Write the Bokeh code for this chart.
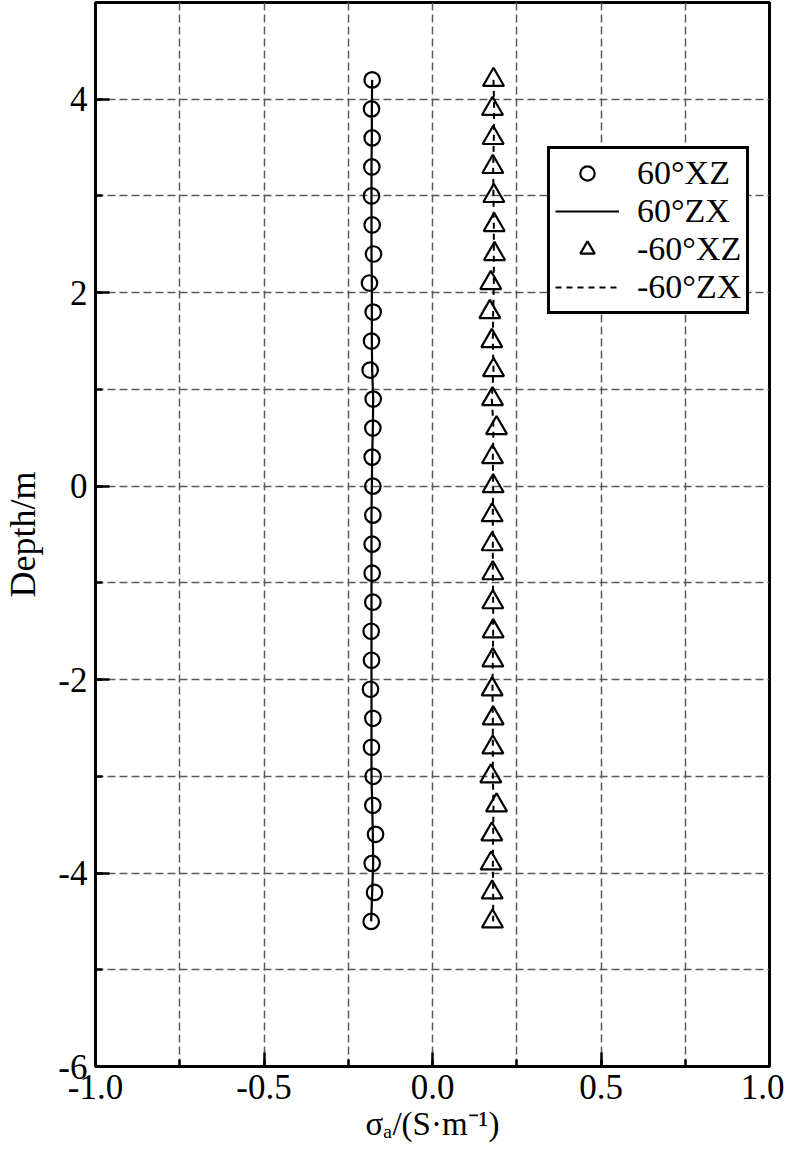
from bokeh.plotting import figure
from bokeh.models import (Range1d, SingleIntervalTicker, PrintfTickFormatter,
                          Legend, LegendItem)
from bokeh.embed import file_html
from bokeh.resources import INLINE

# ---- data ----
depth = [4.2, 3.9, 3.6, 3.3, 3.0, 2.7, 2.4, 2.1, 1.8, 1.5, 1.2, 0.9, 0.6, 0.3, 0.0,
         -0.3, -0.6, -0.9, -1.2, -1.5, -1.8, -2.1, -2.4, -2.7, -3.0, -3.3, -3.6,
         -3.9, -4.2, -4.5]
xz_p60 = [-0.179, -0.181, -0.179, -0.180, -0.181, -0.179, -0.175, -0.187, -0.176,
          -0.181, -0.185, -0.176, -0.177, -0.179, -0.177, -0.177, -0.179, -0.179,
          -0.177, -0.182, -0.181, -0.184, -0.177, -0.181, -0.176, -0.177, -0.169,
          -0.179, -0.172, -0.182]
zx_p60 = [-0.179, -0.180, -0.180, -0.181, -0.181, -0.181, -0.181, -0.180, -0.180,
          -0.180, -0.179, -0.176, -0.177, -0.179, -0.180, -0.181, -0.181, -0.181,
          -0.181, -0.181, -0.181, -0.181, -0.181, -0.181, -0.181, -0.179, -0.177,
          -0.176, -0.179, -0.182]
xz_m60 = [0.181, 0.178, 0.180, 0.179, 0.182, 0.183, 0.184, 0.173, 0.170, 0.176,
          0.181, 0.178, 0.190, 0.178, 0.180, 0.177, 0.177, 0.179, 0.179, 0.180,
          0.179, 0.177, 0.180, 0.179, 0.173, 0.190, 0.176, 0.174, 0.177, 0.178]
zx_m60 = [0.181, 0.183, 0.182, 0.180, 0.181, 0.182, 0.182, 0.182, 0.180, 0.179,
          0.181, 0.176, 0.181, 0.179, 0.180, 0.179, 0.179, 0.179, 0.180, 0.180,
          0.179, 0.178, 0.179, 0.179, 0.179, 0.181, 0.180, 0.179, 0.180, 0.180]
legend_labels = ["60°XZ", "60°ZX", "-60°XZ", "-60°ZX"]
x_title = "σₐ/(S·m⁻¹)"
y_title = "Depth/m"

FONT = "Liberation Serif"

p = figure(width=784, height=1146, output_backend="svg", toolbar_location=None,
           x_range=Range1d(-1, 1), y_range=Range1d(-6, 5),
           min_border_left=90, min_border_right=15, min_border_top=2,
           min_border_bottom=80)
p.background_fill_color = "white"
p.border_fill_color = "white"
p.outline_line_color = "black"
p.outline_line_width = 3
p.outline_line_alpha = 1

# axes
p.xaxis.ticker = SingleIntervalTicker(interval=0.5, num_minor_ticks=2)
p.yaxis.ticker = SingleIntervalTicker(interval=2, num_minor_ticks=2)
p.xaxis.formatter = PrintfTickFormatter(format="%.1f")
p.yaxis.formatter = PrintfTickFormatter(format="%d")
for ax in (p.xaxis, p.yaxis):
    ax.axis_line_width = 3
    ax.axis_line_color = "black"
    ax.major_tick_in = 14
    ax.major_tick_out = 0
    ax.minor_tick_in = 7
    ax.minor_tick_out = 0
    ax.major_tick_line_width = 2.5
    ax.minor_tick_line_width = 2.5
    ax.major_tick_line_color = "black"
    ax.minor_tick_line_color = "black"
    ax.major_label_text_font = FONT
    ax.major_label_text_font_size = "35px"
    ax.major_label_text_color = "black"
    ax.major_label_standoff = 8
    ax.axis_label_text_font = FONT
    ax.axis_label_text_font_style = "normal"
    ax.axis_label_text_color = "black"
p.yaxis.axis_label = y_title
p.yaxis.axis_label_text_font_size = "36px"
p.yaxis.axis_label_standoff = 12
p.xaxis.axis_label = x_title
p.xaxis.axis_label_text_font_size = "33px"
p.xaxis.axis_label_standoff = 4

# grid
p.xgrid.ticker = SingleIntervalTicker(interval=0.25)
p.ygrid.ticker = SingleIntervalTicker(interval=1)
for g in (p.xgrid, p.ygrid):
    g.grid_line_color = "#5a5a5a"
    g.grid_line_width = 1.5
    g.grid_line_dash = "8 4"

# data
r_c = p.scatter(xz_p60, depth, marker="circle", size=15.5, fill_color=None,
                line_color="black", line_width=2.2)
r_l = p.line(zx_p60, depth, line_color="black", line_width=2.2)
r_t = p.scatter(xz_m60, depth, marker="triangle", size=21, fill_color=None,
                line_color="black", line_width=2.2)
r_d = p.line(zx_m60, depth, line_color="black", line_width=2, line_dash="6 5")

legend = Legend(items=[LegendItem(label=legend_labels[0], renderers=[r_c]),
                       LegendItem(label=legend_labels[1], renderers=[r_l]),
                       LegendItem(label=legend_labels[2], renderers=[r_t]),
                       LegendItem(label=legend_labels[3], renderers=[r_d])],
                location=(452, 752))
legend.label_text_font = FONT
legend.label_text_font_size = "34px"
legend.label_text_color = "black"
legend.glyph_width = 64
legend.glyph_height = 36
legend.label_height = 30
legend.spacing = 0
legend.padding = 5
legend.margin = 0
legend.label_standoff = 18
legend.border_line_color = "black"
legend.border_line_width = 3
legend.border_line_alpha = 1
legend.background_fill_color = "white"
legend.background_fill_alpha = 1
p.add_layout(legend, "center")

open("out.html", "w").write(file_html(p, INLINE))
